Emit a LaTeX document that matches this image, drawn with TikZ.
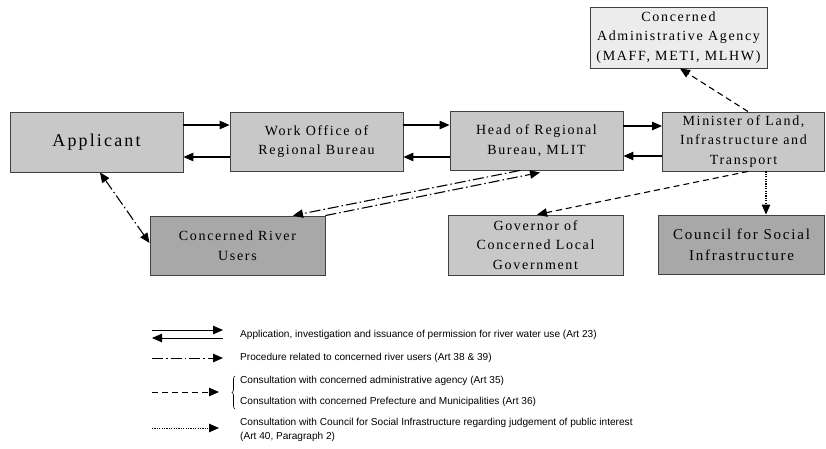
\documentclass[tikz,border=0pt]{standalone}
\usepackage{fontspec}
\setmainfont{Liberation Serif}
\newfontfamily\bxfont[LetterSpace=12]{Liberation Serif}
\newfontfamily\lgfont{Liberation Sans}
\usetikzlibrary{arrows.meta,calc,decorations.pathreplacing}
\definecolor{lightg}{HTML}{C8C8C8}
\definecolor{darkg}{HTML}{A8A8A8}
\definecolor{paleg}{HTML}{ECECEC}
\definecolor{edgeg}{HTML}{404040}
\begin{document}
\begin{tikzpicture}[x=1pt,y=-1pt,
  box/.style={draw=edgeg,line width=0.9pt,align=center,inner sep=0pt,
    font=\bxfont\fontsize{14}{19.5}\selectfont},
  arr/.style={line width=1.1pt,-{Triangle[length=10pt,width=8.5pt]}},
  dbl/.style={line width=1.1pt,{Triangle[length=10pt,width=8.5pt]}-{Triangle[length=10pt,width=8.5pt]}},
  dashdot/.style={dash pattern=on 11pt off 3pt on 1.5pt off 3pt},
  dsh/.style={dash pattern=on 6pt off 4pt},
  dots/.style={dash pattern=on 1.2pt off 1.2pt},
  lg/.style={anchor=west,inner sep=0pt,font=\lgfont\fontsize{10.1}{12}\selectfont,align=left}]
\useasboundingbox (0,0) rectangle (826,448);

% boxes
\node[box,fill=lightg,minimum width=173pt,minimum height=60pt,
  font=\bxfont\fontsize{18}{22}\selectfont] (app) at (96.5,142) {Applicant};
\node[box,fill=lightg,minimum width=173pt,minimum height=59pt] (wo) at (316.5,141.5) {Work Office of\\Regional Bureau};
\node[box,fill=lightg,minimum width=173pt,minimum height=59pt] (hd) at (536.5,140.5) {Head of Regional\\Bureau, MLIT};
\node[box,fill=lightg,minimum width=162pt,minimum height=59pt] (mn) at (743.5,141.5) {Minister of Land,\\Infrastructure and\\Transport};
\node[box,fill=paleg,minimum width=177pt,minimum height=61pt] (ag) at (678.5,37.5) {Concerned\\Administrative Agency\\(MAFF, METI, MLHW)};
\node[box,fill=darkg,minimum width=175pt,minimum height=59pt] (ru) at (237.5,245.5) {Concerned River\\Users};
\node[box,fill=lightg,minimum width=175pt,minimum height=60pt] (gv) at (535.5,245) {Governor of\\Concerned Local\\Government};
\node[box,fill=darkg,minimum width=166pt,minimum height=59pt,
  font=\bxfont\fontsize{15}{21}\selectfont] (cs) at (741.5,244.5) {Council for Social\\Infrastructure};

% application arrows
\draw[arr] (app.east|-0,125) -- (wo.west|-0,125);
\draw[arr] (wo.west|-0,157) -- (app.east|-0,157);
\draw[arr] (wo.east|-0,125) -- (hd.west|-0,125);
\draw[arr] (hd.west|-0,157) -- (wo.east|-0,157);
\draw[arr] (hd.east|-0,126) -- (mn.west|-0,126);
\draw[arr] (mn.west|-0,156) -- (hd.east|-0,156);

% river users procedure
\draw[dbl,dashdot] ([xshift=3.5pt]app.south) -- ([yshift=2.5pt]ru.west);
\draw[arr,dashdot] ([xshift=-16.5pt]hd.south) -- ([xshift=55.5pt]ru.north);
\draw[arr,dashdot] (ru.north east) -- ([xshift=3.5pt,yshift=-2pt]hd.south);

% consultations
\draw[arr,dsh] ([xshift=4.5pt]mn.north) -- ([xshift=1.5pt]ag.south);
\draw[arr,dsh] ([xshift=4.5pt]mn.south) -- ([xshift=1.5pt]gv.north);
\coordinate (dtop) at ([xshift=22.5pt]mn.south);
\draw[arr,dots] (dtop) -- (dtop|-cs.north);

% legend
\coordinate (l1a) at (152,330); \coordinate (l1b) at (223,330);
\coordinate (l2a) at (152,338); \coordinate (l2b) at (223,338);
\draw[arr,line width=0.9pt] (l1a) -- (l1b);
\draw[arr,line width=0.9pt] (l2b) -- (l2a);
\node[lg] (t1) at (240,335) {Application, investigation and issuance of permission for river water use (Art 23)};

\coordinate (l3a) at (152,358); \coordinate (l3b) at (223,358);
\draw[arr,dashdot,line width=1pt] (l3a) -- (l3b);
\node[lg] (t2) at (240,358) {Procedure related to concerned river users (Art 38 \& 39)};

\coordinate (l4a) at (152,392); \coordinate (l4b) at (219,392);
\draw[arr,dsh,line width=1pt] (l4a) -- (l4b);
\coordinate (b1) at (235,409); \coordinate (b2) at (235,376);
\draw[line width=0.6pt,decorate,decoration={brace,amplitude=3pt}] (b1) -- (b2);
\node[lg] (t3) at (240,381) {Consultation with concerned administrative agency (Art 35)};
\node[lg] (t4) at (240,402) {Consultation with concerned Prefecture and Municipalities (Art 36)};

\coordinate (l5a) at (152,428); \coordinate (l5b) at (219,428);
\draw[arr,dots,line width=1pt] (l5a) -- (l5b);
\node[lg] (t5) at (240,423) {Consultation with Council for Social Infrastructure regarding judgement of public interest};
\node[lg] (t6) at (240,437) {(Art 40, Paragraph 2)};
\end{tikzpicture}
\end{document}
